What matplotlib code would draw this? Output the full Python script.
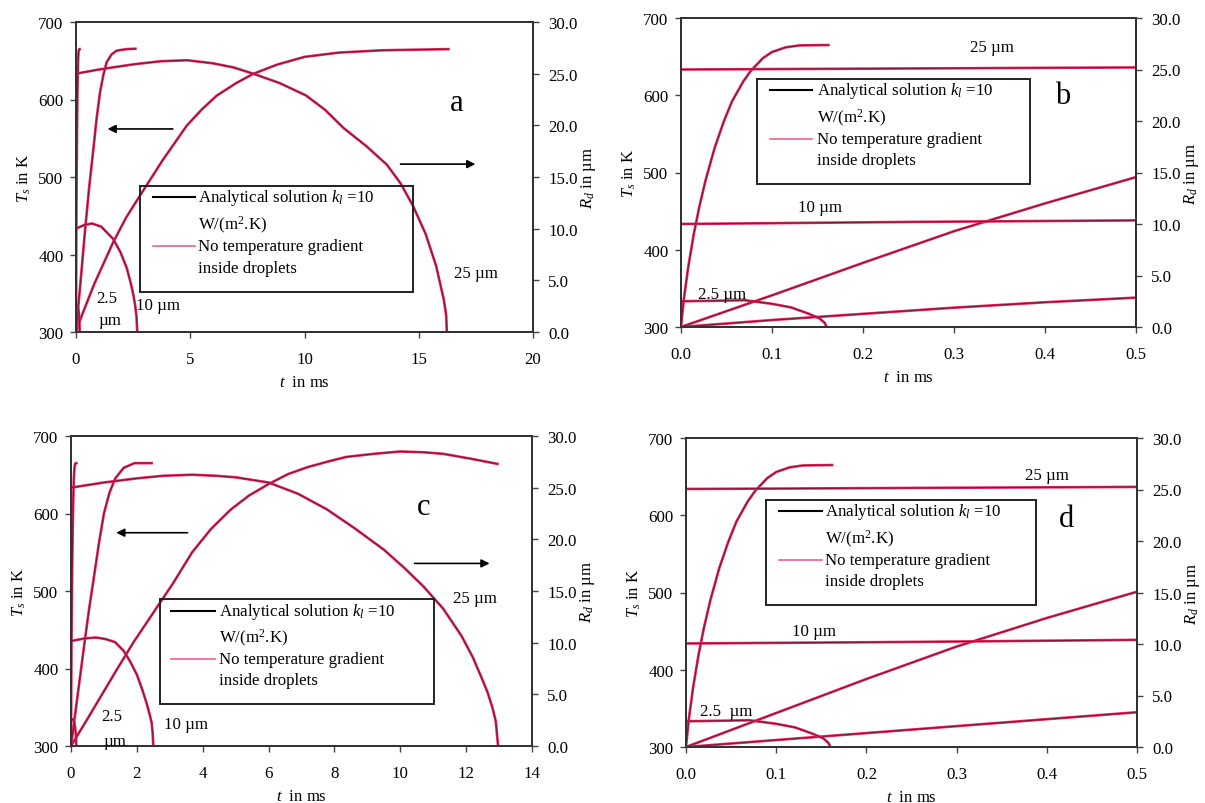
import matplotlib
matplotlib.use("Agg")
import matplotlib.pyplot as plt
from matplotlib.patches import Rectangle
from matplotlib.lines import Line2D

plt.rcParams['font.family'] = ['Liberation Serif', 'DejaVu Serif']
plt.rcParams['mathtext.fontset'] = 'custom'
plt.rcParams['mathtext.rm'] = 'Liberation Serif'
plt.rcParams['mathtext.it'] = 'Liberation Serif:italic'

RED = '#e4265c'

# ---------------- data (t in ms, T in K, R in micrometres) ----------------
# 2.5 um droplet (shared by all panels)
t_T2 = [0, 0.003, 0.008, 0.014, 0.02, 0.027, 0.037, 0.047, 0.056, 0.0685, 0.077, 0.09, 0.1, 0.115, 0.13, 0.162]
T_T2 = [300, 335, 378, 420, 455, 490, 532, 566, 592, 618, 632, 648, 656, 662, 664.5, 665]
t_R2 = [0, 0.04, 0.07, 0.1, 0.121, 0.14, 0.152, 0.158, 0.16]
R_R2 = [2.5, 2.55, 2.6, 2.25, 1.9, 1.3, 0.85, 0.4, 0.0]

# panel a
a_t_T25 = [0, 0.25, 0.8, 1.63, 2.2, 2.8, 3.8, 4.84, 5.5, 6.16, 7.0, 7.75, 8.8, 10.0, 11.5, 13.4, 16.3]
a_T25 = [300, 321, 362, 416, 448, 476, 522, 566, 587, 605, 621, 633, 645, 655, 660.5, 663.5, 665]
a_t_R25 = [0, 1.0, 2.5, 3.7, 4.86, 6.0, 6.9, 7.75, 8.9, 10.06, 10.9, 11.73, 12.7, 13.6, 14.2,
           14.75, 15.3, 15.76, 16.1, 16.2, 16.23]
a_R25 = [25.0, 25.4, 25.9, 26.2, 26.3, 26.0, 25.6, 25.0, 24.1, 22.9, 21.5, 19.7, 18.0, 16.2, 14.4,
         12.2, 9.5, 6.4, 3.1, 1.6, 0.0]
a_t_T10 = [0, 0.2, 0.39, 0.57, 0.76, 0.9, 1.05, 1.2, 1.34, 1.55, 1.78, 2.2, 2.6]
a_T10 = [300, 365, 429, 485, 536, 575, 609, 632, 648, 658, 663, 665, 665.5]
a_t_R10 = [0, 0.35, 0.7, 1.1, 1.63, 1.95, 2.22, 2.4, 2.51, 2.6, 2.65, 2.68]
a_R10 = [10.0, 10.35, 10.5, 10.2, 9.0, 7.7, 6.2, 4.7, 3.6, 2.4, 1.4, 0.0]

# panel b
b_t_T25 = [0, 0.1, 0.2, 0.3, 0.4, 0.5]
b_T25 = [300, 309, 317, 325, 332, 338]
b_t_R25 = [0, 0.25, 0.5]
b_R25 = [25.0, 25.1, 25.2]
b_t_T10 = [0, 0.1, 0.2, 0.3, 0.4, 0.5]
b_T10 = [300, 341, 383, 424, 460, 494]
b_t_R10 = [0, 0.25, 0.5]
b_R10 = [10.0, 10.2, 10.35]

# panel c
c_t_T25 = [0, 0.5, 1.34, 1.9, 2.5, 3.1, 3.68, 4.25, 4.85, 5.4, 6.0, 6.6, 7.2, 7.8, 8.36, 9.2,
           10.0, 10.7, 11.3, 12.1, 12.95]
c_T25 = [300, 335, 395, 434, 472, 510, 550, 580, 605, 623, 638, 651, 660, 667, 673, 677,
         680, 679, 677, 671, 664]
c_t_R25 = [0, 1.0, 2.0, 2.8, 3.68, 4.4, 5.0, 6.0, 6.9, 7.77, 8.6, 9.5, 10.1, 10.7, 11.3, 11.86,
           12.2, 12.45, 12.65, 12.8, 12.9, 12.97]
c_R25 = [25.0, 25.5, 25.9, 26.15, 26.25, 26.15, 26.0, 25.5, 24.4, 22.9, 21.1, 19.0, 17.3, 15.45,
         13.3, 10.65, 8.6, 6.75, 5.2, 3.7, 2.4, 0.0]
c_t_T10 = [0, 0.2, 0.41, 0.55, 0.7, 0.85, 1.0, 1.17, 1.34, 1.6, 1.93, 2.45]
c_T10 = [300, 365, 433, 477, 519, 562, 600, 627, 645, 659, 665, 665]
c_t_R10 = [0, 0.4, 0.76, 1.05, 1.34, 1.6, 1.81, 2.0, 2.16, 2.3, 2.4, 2.45, 2.48, 2.5]
c_R10 = [10.16, 10.4, 10.5, 10.35, 10.05, 9.2, 8.1, 6.9, 5.5, 4.1, 2.9, 2.25, 1.2, 0.0]

# panel d
d_t_T25 = [0, 0.1, 0.2, 0.3, 0.4, 0.5]
d_T25 = [300, 309, 318, 327, 336, 345]
d_t_R25 = [0, 0.25, 0.5]
d_R25 = [25.05, 25.15, 25.25]
d_t_T10 = [0, 0.1, 0.2, 0.3, 0.4, 0.5]
d_T10 = [300, 344, 388, 430, 467, 501]
d_t_R10 = [0, 0.25, 0.5]
d_R10 = [10.05, 10.2, 10.4]

# axis ticks
a_xticks = [0, 5, 10, 15, 20]
c_xticks = [0, 2, 4, 6, 8, 10, 12, 14]
bd_xticks = [0.0, 0.1, 0.2, 0.3, 0.4, 0.5]
T_ticks = [300, 400, 500, 600, 700]
R_ticks = [0, 5, 10, 15, 20, 25, 30]

FS = 12.2

fig = plt.figure(figsize=(12.05, 8.04), dpi=100)


def pair(axis, t, y):
    axis.plot(t, y, color=RED, lw=1.9, solid_joinstyle='round')
    axis.plot(t, y, color='black', lw=0.7, alpha=0.45, solid_joinstyle='round')


def make_panel(rect, xmax, xticks, xfmt, temps, radii, letter, letter_pos,
               box, handles_x, text_x, text_ys, labels, arrows=None):
    ax = fig.add_axes(rect)
    ax2 = ax.twinx()
    for t, T in temps:
        pair(ax, t, T)
    for t, R in radii:
        pair(ax2, t, R)
    ax.set_xlim(0, xmax)
    ax.set_ylim(300, 700)
    ax2.set_ylim(0, 30)
    ax.set_xticks(xticks)
    ax.set_xticklabels([xfmt.format(v) for v in xticks], fontsize=FS)
    ax.set_yticks(T_ticks)
    ax.set_yticklabels([str(v) for v in T_ticks], fontsize=FS)
    ax2.set_yticks(R_ticks)
    ax2.set_yticklabels(['%.1f' % v for v in R_ticks], fontsize=FS)
    for a in (ax, ax2):
        a.tick_params(direction='out', length=4, width=1.0, color='#444444')
        for s in a.spines.values():
            s.set_linewidth(1.4)
            s.set_color('#333333')
    ax.tick_params(axis='x', pad=10)
    ax.tick_params(axis='y', pad=5)
    ax2.tick_params(axis='y', pad=7)
    ax.set_xlabel('$t$  in ms', fontsize=12, labelpad=5)
    ax.set_ylabel('$T_s$ in K', fontsize=12, labelpad=4)
    ax2.set_ylabel('$R_d$ in µm', fontsize=12, labelpad=1)

    tr = ax2.transAxes
    x0, y0, x1, y1 = box
    ax2.add_patch(Rectangle((x0, y0), x1 - x0, y1 - y0, transform=tr,
                            fill=False, edgecolor='#222222', lw=1.4, zorder=5))
    hx0, hx1 = handles_x
    ax2.add_line(Line2D([hx0, hx1], [text_ys[0], text_ys[0]], transform=tr,
                        color='black', lw=1.5, zorder=6))
    ax2.add_line(Line2D([hx0, hx1], [text_ys[2], text_ys[2]], transform=tr,
                        color='#f0608e', lw=1.2, zorder=6))
    texts = ['Analytical solution $k_l$ =10', 'W/(m$^2$.K)',
             'No temperature gradient', 'inside droplets']
    for s, yy in zip(texts, text_ys):
        ax2.text(text_x, yy, s, transform=tr, fontsize=FS, va='center', ha='left', zorder=6)

    ax2.text(letter_pos[0], letter_pos[1], letter, transform=tr, fontsize=22,
             ha='center', va='center')
    for s, x, y in labels:
        ax2.text(x, y, s, transform=tr, fontsize=FS, ha='center', va='center')
    if arrows:
        for (xs, xe, y) in arrows:
            ax2.annotate('', xy=(xe, y), xytext=(xs, y), xycoords=tr, textcoords=tr,
                         arrowprops=dict(arrowstyle='-|>', color='black', lw=1.2,
                                         mutation_scale=12))
    return ax, ax2


W, H = 1205.0, 804.0


def rect(L, R, T, B):
    return [L / W, 1 - B / H, (R - L) / W, (B - T) / H]


# panel a
make_panel(rect(76, 533, 23, 333), 20, a_xticks, '{:g}',
           [(t_T2, T_T2), (a_t_T25, a_T25), (a_t_T10, a_T10)],
           [(t_R2, R_R2), (a_t_R25, a_R25), (a_t_R10, a_R10)],
           'a', (0.834, 0.741),
           (0.14, 0.128, 0.7375, 0.4715), (0.1675, 0.26), 0.268,
           [0.434, 0.3475, 0.2775, 0.207],
           [('25 µm', 0.876, 0.191), ('10 µm', 0.18, 0.088),
            ('2.5', 0.067, 0.11), ('µm', 0.075, 0.04)],
           arrows=[(0.218, 0.063, 0.655), (0.704, 0.880, 0.5415)])

# panel b
make_panel(rect(681, 1136, 19, 328), 0.5, bd_xticks, '{:.1f}',
           [(t_T2, T_T2), (b_t_T25, b_T25), (b_t_T10, b_T10)],
           [(t_R2, R_R2), (b_t_R25, b_R25), (b_t_R10, b_R10)],
           'b', (0.839, 0.749),
           (0.1667, 0.463, 0.767, 0.8028), (0.196, 0.289), 0.298,
           [0.768, 0.679, 0.609, 0.539],
           [('25 µm', 0.683, 0.905), ('10 µm', 0.306, 0.388), ('2.5 µm', 0.09, 0.108)])

# panel c
make_panel(rect(71, 532, 437, 747), 14, c_xticks, '{:g}',
           [(t_T2, T_T2), (c_t_T25, c_T25), (c_t_T10, c_T10)],
           [(t_R2, R_R2), (c_t_R25, c_R25), (c_t_R10, c_R10)],
           'c', (0.764, 0.774),
           (0.192, 0.134, 0.787, 0.473), (0.217, 0.313), 0.32,
           [0.4355, 0.3495, 0.2796, 0.213],
           [('25 µm', 0.876, 0.478), ('10 µm', 0.25, 0.07),
            ('2.5', 0.088, 0.097), ('µm', 0.096, 0.016)],
           arrows=[(0.259, 0.092, 0.688), (0.739, 0.914, 0.589)])

# panel d
make_panel(rect(686, 1137, 439, 748), 0.5, bd_xticks, '{:.1f}',
           [(t_T2, T_T2), (d_t_T25, d_T25), (d_t_T10, d_T10)],
           [(t_R2, R_R2), (d_t_R25, d_R25), (d_t_R10, d_R10)],
           'd', (0.843, 0.741),
           (0.178, 0.4606, 0.775, 0.800), (0.206, 0.301), 0.3076,
           [0.7627, 0.6764, 0.604, 0.536],
           [('25 µm', 0.801, 0.881), ('10 µm', 0.284, 0.374), ('2.5  µm', 0.089, 0.115)])

fig.savefig('out.png', dpi=100)
